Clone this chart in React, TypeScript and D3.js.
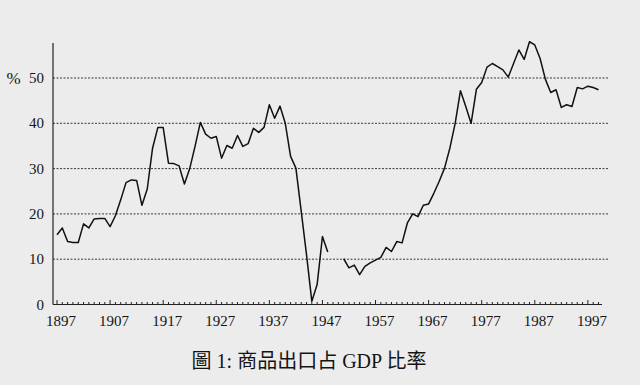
import React, { useEffect, useRef } from 'react'
import * as d3 from 'd3'

// merchandise exports as % of GDP, one value per year from 1897, null = no data
const firstYear = 1897
const lastYear = 1999
const exportShare: (number | null)[] = [
  15.4, 16.9, 13.9, 13.7, 13.7, 17.8, 16.9, 18.9, 19.0, 19.0,
  17.2, 19.6, 23.1, 26.9, 27.5, 27.4, 21.9, 25.5, 34.5, 39.1,
  39.1, 31.2, 31.1, 30.6, 26.6, 30.0, 34.9, 40.2, 37.6, 36.7,
  37.1, 32.3, 35.1, 34.5, 37.3, 34.9, 35.5, 38.9, 38.0, 39.1,
  44.1, 41.1, 43.8, 40.0, 32.7, 30.1, 20.6, 11.0, 0.7, 4.4,
  15.0, 11.6, null, null, 10.1, 8.1, 8.7, 6.6, 8.4, 9.2,
  9.8, 10.4, 12.6, 11.7, 13.9, 13.6, 18.0, 20.0, 19.4, 21.9,
  22.2, 24.6, 27.2, 30.1, 34.5, 40.0, 47.2, 43.7, 40.0, 47.5,
  49.0, 52.4, 53.2, 52.5, 51.8, 50.2, 53.2, 56.2, 54.1, 58.0,
  57.3, 54.3, 49.7, 46.8, 47.4, 43.5, 44.1, 43.7, 47.9, 47.6,
  48.2, 47.9, 47.4,
]
const yearLabels = [1897, 1907, 1917, 1927, 1937, 1947, 1957, 1967, 1977, 1987, 1997]
const yTicks = [0, 10, 20, 30, 40, 50]
const title = '圖 1: 商品出口占 GDP 比率'

const width = 640
const height = 385
const serif = '"Liberation Serif", "Noto Sans CJK TC", serif'

export default function App() {
  const ref = useRef<SVGSVGElement>(null)

  useEffect(() => {
    const svg = d3.select(ref.current)
    svg.selectAll('*').remove()

    const x = d3.scaleLinear().domain([firstYear, lastYear]).range([57, 598.5])
    const y = d3.scaleLinear().domain([0, 50]).range([304.5, 78])
    const axisLeft = 53
    const axisRight = 602
    const gridRight = 608

    svg.append('rect')
      .attr('width', width)
      .attr('height', height)
      .attr('fill', '#ececec')

    // dotted grid
    svg.append('g')
      .selectAll('line')
      .data(yTicks.filter(d => d > 0))
      .enter()
      .append('line')
      .attr('x1', axisLeft)
      .attr('x2', gridRight)
      .attr('y1', d => y(d))
      .attr('y2', d => y(d))
      .attr('stroke', '#3a3a3a')
      .attr('stroke-width', 1)
      .attr('stroke-dasharray', '2,1.5')

    // axes
    svg.append('line')
      .attr('x1', axisLeft).attr('x2', axisLeft)
      .attr('y1', 43).attr('y2', y(0))
      .attr('stroke', '#222').attr('stroke-width', 1.2)
    svg.append('line')
      .attr('x1', axisLeft).attr('x2', axisRight)
      .attr('y1', y(0)).attr('y2', y(0))
      .attr('stroke', '#222').attr('stroke-width', 1.2)

    const years = d3.range(firstYear, lastYear + 1)
    svg.append('g')
      .selectAll('line')
      .data(years)
      .enter()
      .append('line')
      .attr('x1', d => x(d))
      .attr('x2', d => x(d))
      .attr('y1', y(0))
      .attr('y2', d => y(0) - ((d - firstYear) % 10 === 0 ? 4.5 : 2.5))
      .attr('stroke', '#222')
      .attr('stroke-width', 1)

    svg.append('g')
      .selectAll('text')
      .data(yearLabels)
      .enter()
      .append('text')
      .attr('x', d => x(d) + 4)
      .attr('y', 326)
      .attr('text-anchor', 'middle')
      .attr('font-family', serif)
      .attr('font-size', 15)
      .attr('fill', '#141414')
      .text(d => d)

    svg.append('g')
      .selectAll('text')
      .data(yTicks)
      .enter()
      .append('text')
      .attr('x', 44)
      .attr('y', d => y(d) + 5)
      .attr('text-anchor', 'end')
      .attr('font-family', serif)
      .attr('font-size', 15)
      .attr('fill', '#141414')
      .text(d => d)

    svg.append('text')
      .attr('x', 13.5)
      .attr('y', y(50) + 5.5)
      .attr('text-anchor', 'middle')
      .attr('font-family', serif)
      .attr('font-size', 17)
      .attr('fill', '#141414')
      .text('%')

    const line = d3.line<number | null>()
      .defined(d => d !== null)
      .x((d, i) => x(firstYear + i))
      .y(d => y(d as number))

    svg.append('path')
      .datum(exportShare)
      .attr('d', line)
      .attr('fill', 'none')
      .attr('stroke', '#111')
      .attr('stroke-width', 1.5)
      .attr('stroke-linejoin', 'round')

    svg.append('text')
      .attr('x', 309)
      .attr('y', 368)
      .attr('text-anchor', 'middle')
      .attr('font-family', serif)
      .attr('font-size', 20)
      .attr('fill', '#141414')
      .text(title)
  }, [])

  return (
    <svg
      ref={ref}
      width={width}
      height={height}
      style={{ position: 'absolute', left: 0, top: 0, display: 'block' }}
    />
  )
}
